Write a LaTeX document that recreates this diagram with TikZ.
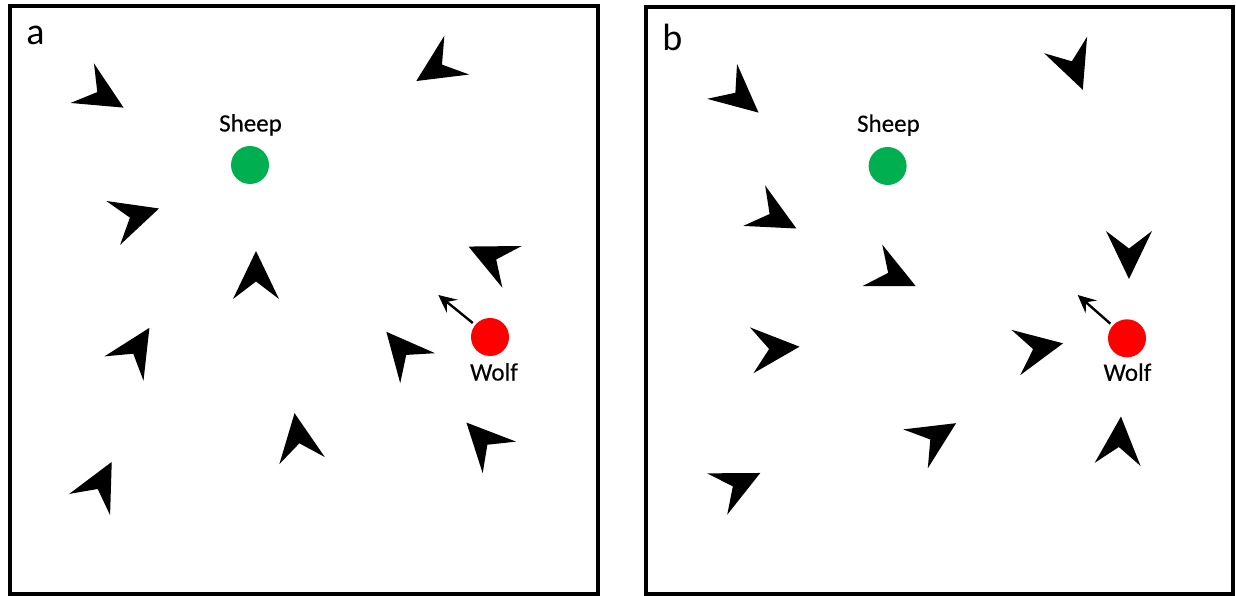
\documentclass[tikz,border=0pt]{standalone}
\usepackage{fontspec}
\setmainfont{Carlito}
\newfontfamily\lblfont{Carlito}[FakeBold=0.3]
\usetikzlibrary{arrows.meta}
\definecolor{sheepgreen}{HTML}{00B050}
\definecolor{wolfred}{HTML}{FF0000}
\newcommand\dart[3]{\fill[dartfill, shift={(#1,#2)}, rotate=#3] (24,0) -- (-24,23) -- (-6.5,0) -- (-24,-23) -- cycle;}
\begin{document}
\begin{tikzpicture}[x=1pt,y=-1pt,
  frame/.style={draw=black, line width=4pt},
  agent/.style={circle, inner sep=0pt, minimum size=38pt},
  lbl/.style={font=\lblfont\fontsize{25}{30}\selectfont, anchor=base, inner sep=0pt},
  panel/.style={font=\fontsize{38}{44}\selectfont, anchor=base, inner sep=0pt},
  dartfill/.style={fill=black},
  heading/.style={-{Stealth[length=18pt,width=17pt,inset=7pt]}, line width=2.4pt, shorten <=3pt}]
\useasboundingbox[fill=white] (0,0) rectangle (1236,596);
% frames
\draw[frame] (9.5,5.7) rectangle (597.5,593.5);
\draw[frame] (646.4,7) rectangle (1232.5,594);
% panel labels
\node[panel] (labA) at (35.6,44.5) {a};
\node[panel] (labB) at (672.3,50.7) {b};
% panel a
\node[agent, fill=sheepgreen] (sheepA) at (250,165) {};
\node[lbl] (sheepAlbl) at (250.5,131.5) {Sheep};
\node[agent, fill=wolfred] (wolfA) at (490,337) {};
\node[lbl] (wolfAlbl) at (494,380.5) {Wolf};
\coordinate (wolfAto) at (438.3,295);
\draw[heading] (wolfA) -- (wolfAto);
\dart{102.9}{95.4}{-30.6}
\dart{436.5}{68.1}{-147.4}
\dart{136.1}{215.7}{17.5}
\dart{256}{275}{90}
\dart{490.3}{256.7}{155}
\dart{136.7}{348.2}{58}
\dart{402}{350}{130.7}
\dart{298.3}{436.9}{99}
\dart{482.9}{440}{133.4}
\dart{100.7}{483.2}{62.6}
% panel b
\node[agent, fill=sheepgreen] (sheepB) at (887.6,166) {};
\node[lbl] (sheepBlbl) at (888.4,131.8) {Sheep};
\node[agent, fill=wolfred] (wolfB) at (1127,338.3) {};
\node[lbl] (wolfBlbl) at (1127.5,380.8) {Wolf};
\coordinate (wolfBto) at (1077.7,295);
\draw[heading] (wolfB) -- (wolfBto);
\dart{740.3}{97}{-40.6}
\dart{1074.2}{67.4}{-69}
\dart{775.3}{217.1}{-28.4}
\dart{894}{275.7}{-25.5}
\dart{1129}{255}{-90}
\dart{775.6}{348.5}{4.3}
\dart{1039.5}{347.9}{11}
\dart{935.8}{436}{32.3}
\dart{1119.3}{440.5}{86}
\dart{738.7}{483.5}{26}
\end{tikzpicture}
\end{document}
